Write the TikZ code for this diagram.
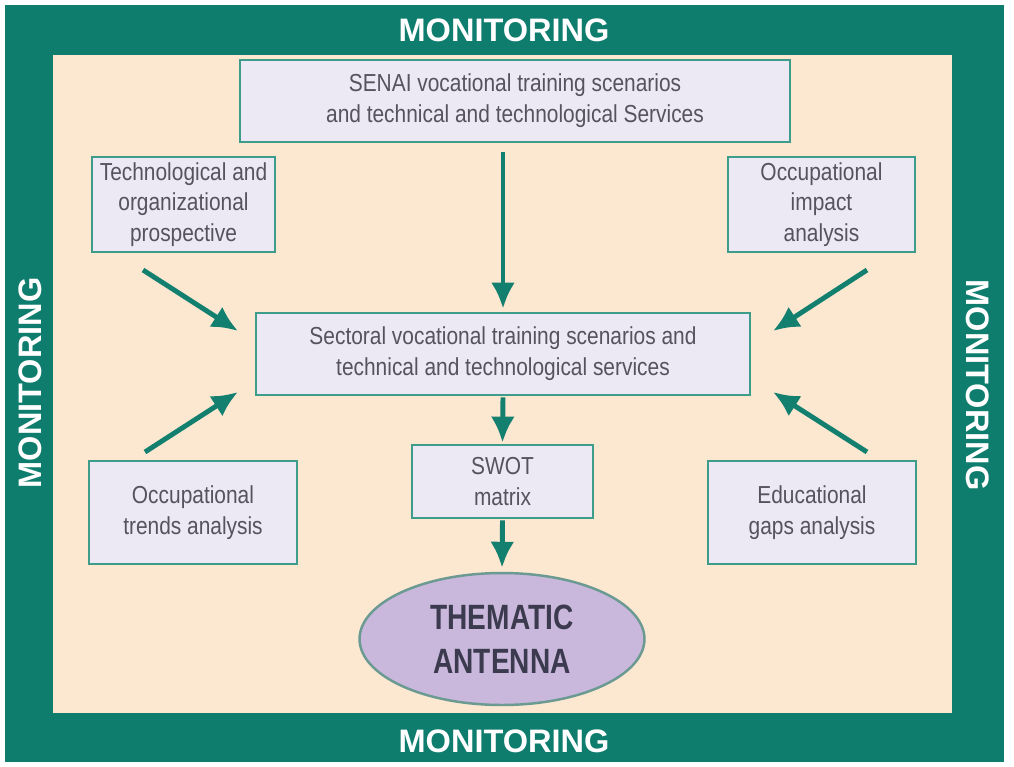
\documentclass[tikz,border=0pt]{standalone}
\usepackage{fontspec}
\setmainfont{Liberation Sans}
\newfontfamily\boxfont[FakeStretch=0.85]{Liberation Sans}
\newfontfamily\ellfont[FakeStretch=0.8]{Liberation Sans}
\usetikzlibrary{arrows.meta,shapes.geometric}
\definecolor{frame}{HTML}{0F7D6D}
\definecolor{cream}{HTML}{FCE7D1}
\definecolor{boxfill}{HTML}{EDE9F4}
\definecolor{boxline}{HTML}{3E9C8B}
\definecolor{arrowc}{HTML}{13806F}
\definecolor{ellfill}{HTML}{C9B8DB}
\definecolor{ellline}{HTML}{6A9A92}
\definecolor{txt}{HTML}{55535E}
\definecolor{elltxt}{HTML}{3B3A4E}
\begin{document}
\begin{tikzpicture}[x=0.02cm,y=-0.02cm,
  box/.style={draw=boxline,line width=1.6pt,fill=boxfill,rectangle,align=center,
    inner sep=0pt,text=txt,font=\boxfont\fontsize{14pt}{17.5pt}\selectfont},
  monlabel/.style={text=white,font=\bfseries\fontsize{18.5pt}{20pt}\selectfont,inner sep=0pt},
  flow/.style={draw=arrowc,line width=2.8pt,-{Latex[length=0.52cm,width=0.48cm]}}]
\useasboundingbox (0,0) rectangle (1014,767);
\fill[white] (0,0) rectangle (1014,767);
\fill[frame] (5,5) rectangle (1004,762);
\fill[cream] (53,55) rectangle (952,713);
% monitoring labels
\node[monlabel] (mtop) at (504,30) {MONITORING};
\node[monlabel] (mbot) at (504,741) {MONITORING};
\node[monlabel,rotate=90] (mleft) at (30,383) {MONITORING};
\node[monlabel,rotate=-90] (mright) at (978,385) {MONITORING};
% boxes
\node[box,minimum width=11cm,minimum height=1.64cm] (senai) at (515,101)
  {SENAI vocational training scenarios\\and technical and technological Services};
\node[box,minimum width=3.66cm,minimum height=1.9cm] (tech) at (183.5,204.5)
  {Technological and\\organizational\\prospective};
\node[box,minimum width=3.74cm,minimum height=1.9cm] (impact) at (821.5,204.5)
  {Occupational\\impact\\analysis};
\node[box,minimum width=9.88cm,minimum height=1.64cm] (sect) at (503,354)
  {Sectoral vocational training scenarios and\\technical and technological services};
\node[box,minimum width=4.16cm,minimum height=2.06cm] (trends) at (193,512.5)
  {Occupational\\trends analysis};
\node[box,minimum width=3.62cm,minimum height=1.46cm] (swot) at (502.5,481.5)
  {SWOT\\matrix};
\node[box,minimum width=4.16cm,minimum height=2.06cm] (educ) at (812,512.5)
  {Educational\\gaps analysis};
\node[ellipse,draw=ellline,line width=1.4pt,fill=ellfill,minimum width=5.7cm,minimum height=2.64cm,
  inner sep=0pt,align=center,text=elltxt,font=\ellfont\bfseries\fontsize{20pt}{25pt}\selectfont]
  (ell) at (502,639) {THEMATIC\\ANTENNA};
% arrow end points
\coordinate (a1s) at (143,270); \coordinate (a1e) at (238,331);
\coordinate (a2s) at (145,452); \coordinate (a2e) at (238,392);
\coordinate (a3s) at (867,270); \coordinate (a3e) at (773,331);
\coordinate (a4s) at (867,452); \coordinate (a4e) at (773,392);
% arrows
\draw[flow,shorten <=0.18cm,shorten >=0.06cm] (senai.south -| sect.north) -- (sect.north);
\draw[flow,shorten <=0.02cm,shorten >=0.02cm] (sect.south) -- (swot.north);
\draw[flow,shorten <=0.02cm,shorten >=0.08cm] (swot.south) -- (ell.north);
\draw[flow] (a1s) -- (a1e);
\draw[flow] (a2s) -- (a2e);
\draw[flow] (a3s) -- (a3e);
\draw[flow] (a4s) -- (a4e);
\end{tikzpicture}
\end{document}
